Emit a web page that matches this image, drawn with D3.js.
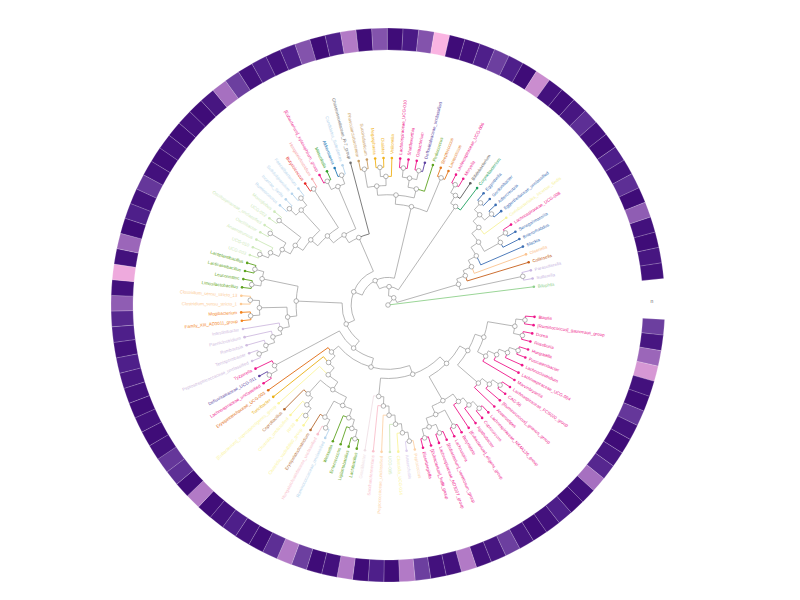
<!DOCTYPE html>
<html>
<head>
<meta charset="utf-8">
<script src="https://cdn.jsdelivr.net/npm/d3@7"></script>
<style>
  body { margin: 0; background: #fff; }
  svg { display: block; }
  .tip { font-family: "Liberation Sans", Arial, sans-serif; font-size: 4.4px; }
</style>
</head>
<body>
<script>
// ---- data ----
// tree topology, clockwise leaf order; leaves are indices into taxa[]
const nwLachno = "(((((0,1),(2,3)),((((4,5),6),7),8)),(((9,10),11),12)),((((13,14),15),16),((17,18),((19,20),(21,22)))))";
const nwPastel = "((((((23,24),25),26),27),28),29)";
const nwBottomLeft = "((((((((30,31),32),33),((34,35),36)),(((37,38),39),40)),41),42),43)";
const nwPinkPurple = "((44,45),46)";
const nwLeft = "((((((47,48),49),50),51),((52,53),(54,55))),((56,57),(58,59)))";
const nwTopLeft = "((((((((60,61),62),(63,64)),(65,66)),((67,68),(69,70))),(71,72)),((73,74),(75,76))),77)";
const nwTop = "((((78,79),((80,81),82)),(((83,84),(85,86)),87)),(88,89))";
const nwTopRight = "(((90,91),92),93)";
const nwRight = "((((((((94,95),(96,97)),98),((99,100),101)),102),103),104),(105,106))";
const treeNewick = `(((((((((${nwLachno},${nwPastel}),${nwBottomLeft}),${nwPinkPurple}),${nwLeft}),${nwTopLeft}),${nwTop}),${nwTopRight}),${nwRight}),107)`;

const taxa = [
  "Blautia","[Ruminococcus]_gauvreauii_group","Dorea","Roseburia","Hungatella","Fusicatenibacter",
  "Lachnoclostridium","Lachnospiraceae_UCG-004","Marvinbryantia","Lachnospiraceae_FCS020_group","CAG-56",
  "[Ruminococcus]_gnavus_group","Anaerostipes","Lachnospiraceae_NK4A136_group","Coprococcus","Agathobacter",
  "[Eubacterium]_eligens_group","Butyrivibrio","Lachnospira","[Eubacterium]_ventriosum_group",
  "Lachnospiraceae_ND3007_group","[Eubacterium]_hallii_group","Eisenbergiella",
  "Peptococcus","Anaerofustis","Clostridia_UCG-014","UCG-005","Peptococcaceae_unclassified","Saccharofermentans","Gracilibacter",
  "Lactobacillus","Ligilactobacillus","Enterococcus","Weissella",
  "Ruminococcaceae_unclassified","Hungateiclostridiaceae_unclassified","Erysipelatoclostridium","Clostridia_vadinBB60_group",
  "RF39","Clostridia_unclassified","Coprobacillus","[Eubacterium]_coprostanoligenes_group","Turicibacter","Erysipelotrichaceae_UCG-003",
  "Lachnospiraceae_unclassified","Defluviitaleaceae_UCG-011","Tyzzerella",
  "Peptostreptococcaceae_unclassified","Terrisporobacter","Romboutsia","Paeniclostridium","Intestinibacter",
  "Family_XIII_AD3011_group","Mogibacterium","Clostridium_sensu_stricto_1","Clostridium_sensu_stricto_13",
  "Limosilactobacillus","Leuconostoc","Lacticaseibacillus","Lactiplantibacillus",
  "UCG-003","UCG-010","Anaerotruncus","Oscillibacter","Oscillospiraceae_unclassified","UCG-002","Monoglobus",
  "Ruminococcus","Incertae_Sedis","Subdoligranulum","Faecalibacterium",
  "Butyricicoccus","Hungateiclostridium","[Eubacterium]_xylanophilum_group","Mitsuokella","Akkermansia",
  "Candidatus_Soleaferrea","Christensenellaceae_R-7_group",
  "Phascolarctobacterium","Succiniclasticum","Megasphaera","Dialister","Veillonella",
  "Lachnospiraceae_UCG-010","Shuttleworthia","Oribacterium","Defluviitaleaceae_unclassified","Pediococcus","Streptococcus","Lactococcus",
  "Lachnospiraceae_UCG-006","Moryella","Bifidobacterium","Corynebacterium",
  "Eggerthella","Gordonibacter","Adlercreutzia","Eggerthellaceae_unclassified","Coriobacteriales_Incertae_Sedis",
  "Lachnospiraceae_UCG-008","Senegalimassilia","Enterorhabdus","Slackia","Olsenella","Collinsella",
  "Parasutterella","Sutterella","Bilophila"
];

// family of each leaf, as runs in leaf order
const familyRuns = [
  ["Lachnospiraceae",23],["Peptococcaceae",1],["Eubacteriaceae",1],["Clostridia_UCG-014",1],["Oscillospiraceae",1],
  ["Peptococcaceae",1],["Hungateiclostridiaceae",1],["Gracilibacteraceae",1],["Lactobacillaceae",4],["Ruminococcaceae",1],
  ["Hungateiclostridiaceae",1],["Erysipelatoclostridiaceae",1],["Clostridia_UCG-014",3],["Erysipelatoclostridiaceae",1],
  ["Clostridia_UCG-014",1],["Turicibacteraceae",1],["Erysipelotrichaceae",1],["Lachnospiraceae",1],["Defluviitaleaceae",1],
  ["Lachnospiraceae",1],["Peptostreptococcaceae",5],["Anaerovoracaceae",2],["Clostridiaceae",2],["Lactobacillaceae",4],
  ["Oscillospiraceae",7],["Ruminococcaceae",4],["Butyricicoccaceae",1],["Acutalibacteraceae",1],["Lachnospiraceae",1],
  ["Selenomonadaceae",1],["Akkermansiaceae",1],["Ruminococcaceae",1],["Christensenellaceae",1],["Acidaminococcaceae",2],
  ["Veillonellaceae",3],["Lachnospiraceae",3],["Defluviitaleaceae",1],["Lactobacillaceae",1],["Streptococcaceae",2],
  ["Lachnospiraceae",2],["Bifidobacteriaceae",1],["Corynebacteriaceae",1],["Eggerthellaceae",4],
  ["Coriobacteriales_Incertae_Sedis",1],["Lachnospiraceae",1],["Eggerthellaceae",3],["Atopobiaceae",1],
  ["Coriobacteriaceae",1],["Sutterellaceae",2],["Desulfovibrionaceae",1]
];

// outer ring value per leaf (relative abundance score, 0-10)
const ringValues = [
  4,1,6,8.5,0.5,0,3.5,0.5,0,1,2.5,6.5,0.5,0,2,0.5,0,1,4,1,0.5,7,0.5,
  0.5,4,7,0,2,0,7,0.5,0,4,7,3,0,0.5,2,0.5,0,7,0,3,3.5,0.5,0,0.5,
  0,0.5,1,2,0.5,2,2.5,5.5,0.5,9.5,0.5,6,0,2,0.5,3.5,0.5,0,0.5,0,
  0.5,0,1,6.5,4,0.5,2,0.5,2,5,0,2,7,0,5,0,1.5,5,10,0,0.5,2,4,2,0,
  8,0.5,0,1,3,0.5,0,2,0.5,3,0,5.5,0.5,0,1,0.5
];

// ---- styles ----
const familyColor = {
  "Lachnospiraceae":"#ee168a","Peptococcaceae":"#fdd3a8","Eubacteriaceae":"#dccfee","Clostridia_UCG-014":"#fbf59c",
  "Oscillospiraceae":"#cde9b9","Hungateiclostridiaceae":"#f9c0cc","Gracilibacteraceae":"#efe0e5","Lactobacillaceae":"#5ea320",
  "Ruminococcaceae":"#b6d4ec","Erysipelatoclostridiaceae":"#b56a30","Turicibacteraceae":"#eaae10","Erysipelotrichaceae":"#e0690d",
  "Defluviitaleaceae":"#5c3fa0","Peptostreptococcaceae":"#cfbbe0","Anaerovoracaceae":"#f3841e","Clostridiaceae":"#fcc891",
  "Butyricicoccaceae":"#e8221f","Acutalibacteraceae":"#f7a4a8","Selenomonadaceae":"#35a02e","Akkermansiaceae":"#2178b5",
  "Christensenellaceae":"#6e6e6e","Acidaminococcaceae":"#c99d62","Veillonellaceae":"#f1b21a","Streptococcaceae":"#e3781d",
  "Bifidobacteriaceae":"#5a5a5a","Corynebacteriaceae":"#20a060","Eggerthellaceae":"#3b6db3",
  "Coriobacteriales_Incertae_Sedis":"#f6f29a","Atopobiaceae":"#fbc38e","Coriobacteriaceae":"#c65f1b",
  "Sutterellaceae":"#c8b6e2","Desulfovibrionaceae":"#8ed08b"
};

const width = 800, height = 600;
const cx = 388, cy = 305;
const rLeaf = 147, rLabel = 151, ringInner = 255, ringOuter = 277;
const startDeg = 3, spanDeg = 351.5;

const leafFamily = familyRuns.flatMap(([f, n]) => Array(n).fill(f));

function parseNewick(s) {
  let i = 0;
  function node() {
    if (s[i] === "(") {
      i++;
      const kids = [];
      kids.push(node());
      while (s[i] === ",") { i++; kids.push(node()); }
      i++; // ")"
      return { children: kids };
    }
    let t = "";
    while (i < s.length && !",()".includes(s[i])) t += s[i++];
    return { leaf: +t };
  }
  return node();
}

const root = d3.hierarchy(parseNewick(treeNewick));
d3.cluster().size([spanDeg, rLeaf]).separation(() => 1)(root);

const step = spanDeg / (root.leaves().length - 1);
const pt = (deg, r) => {
  const a = deg * Math.PI / 180;
  return [cx + r * Math.cos(a), cy + r * Math.sin(a)];
};
const ang = d => startDeg + d.x;
const colorOf = d => familyColor[leafFamily[d.data.leaf]];

const svg = d3.select("body").append("svg")
  .attr("width", width).attr("height", height);

// outer ring
const ringColor = d3.scaleLinear()
  .domain([0, 2, 4, 7, 10])
  .range(["#3f0c78", "#4e1f8a", "#6c3f9f", "#b27ac6", "#fab4e2"]);
const arc = d3.arc().innerRadius(ringInner).outerRadius(ringOuter);

svg.append("g").attr("transform", `translate(${cx},${cy})`)
  .selectAll("path")
  .data(root.leaves())
  .join("path")
    .attr("d", d => arc({
      startAngle: (ang(d) - step / 2 + 90) * Math.PI / 180,
      endAngle: (ang(d) + step / 2 + 90) * Math.PI / 180
    }))
    .attr("fill", d => ringColor(ringValues[d.data.leaf]))
    .attr("stroke", "#fff")
    .attr("stroke-opacity", 0.35)
    .attr("stroke-width", 0.6);

// branches
function linkPath(l) {
  const a0 = ang(l.source), a1 = ang(l.target);
  const r0 = l.source.y, r1 = l.target.y;
  const p0 = pt(a0, r0), p1 = pt(a1, r0), p2 = pt(a1, r1);
  const sweep = a1 > a0 ? 1 : 0;
  const large = Math.abs(a1 - a0) > 180 ? 1 : 0;
  return `M${p0[0]},${p0[1]}A${r0},${r0} 0 ${large} ${sweep} ${p1[0]},${p1[1]}L${p2[0]},${p2[1]}`;
}

const links = root.links();
svg.append("g")
  .selectAll("path")
  .data(links.filter(l => l.target.children))
  .join("path")
    .attr("d", linkPath)
    .attr("fill", "none")
    .attr("stroke", "#a3a3a3")
    .attr("stroke-width", 0.8);

svg.append("g")
  .selectAll("path")
  .data(links.filter(l => !l.target.children))
  .join("path")
    .attr("d", linkPath)
    .attr("fill", "none")
    .attr("stroke", d => colorOf(d.target))
    .attr("stroke-width", 0.9);

// internal nodes
svg.append("g")
  .selectAll("circle")
  .data(root.descendants().filter(d => d.children))
  .join("circle")
    .attr("cx", d => pt(ang(d), d.y)[0])
    .attr("cy", d => pt(ang(d), d.y)[1])
    .attr("r", 2.3)
    .attr("fill", "#fff")
    .attr("stroke", "#858585")
    .attr("stroke-width", 0.6);

// tips
svg.append("g")
  .selectAll("circle")
  .data(root.leaves())
  .join("circle")
    .attr("cx", d => pt(ang(d), d.y)[0])
    .attr("cy", d => pt(ang(d), d.y)[1])
    .attr("r", 1.3)
    .attr("fill", colorOf);

// labels
svg.append("g")
  .selectAll("text")
  .data(root.leaves())
  .join("text")
    .attr("class", "tip")
    .attr("transform", d => {
      const a = ang(d);
      const flip = a > 90 && a < 270;
      return `translate(${cx},${cy}) rotate(${a}) translate(${rLabel},0)` + (flip ? " rotate(180)" : "");
    })
    .attr("text-anchor", d => (ang(d) > 90 && ang(d) < 270) ? "end" : "start")
    .attr("dy", "0.35em")
    .attr("fill", colorOf)
    .text(d => taxa[d.data.leaf]);

// ring tag in the gap
const tagPos = pt(-0.8, 264);
svg.append("text")
  .attr("x", tagPos[0]).attr("y", tagPos[1])
  .attr("text-anchor", "middle")
  .attr("dy", "0.35em")
  .attr("font-family", "Liberation Sans, Arial, sans-serif")
  .attr("font-size", 5)
  .attr("fill", "#666")
  .text("n");
</script>
</body>
</html>
